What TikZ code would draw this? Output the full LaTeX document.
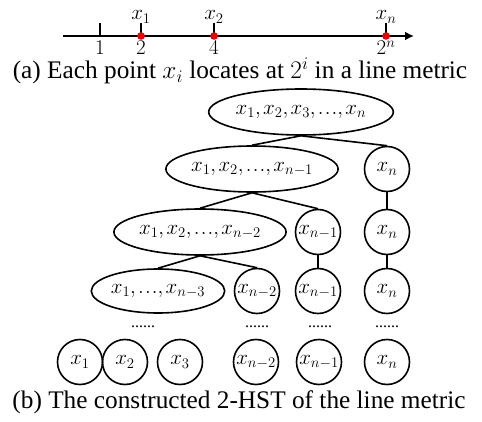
\documentclass[tikz,border=0pt]{standalone}
\usepackage{fix-cm}
\usepackage{fontspec}
\setmainfont{Liberation Serif}
\usetikzlibrary{arrows.meta,shapes.geometric}
\definecolor{Dot}{HTML}{F00000}
\newcommand\labsize{\fontsize{21}{24}\selectfont}
\newcommand\capsize{\fontsize{25.3}{28}\selectfont}
\newcommand\sep{,\mkern-1mu}
\newcommand\dd{{.\mkern1mu.\mkern1mu.}}

\tikzset{
  axis/.style={line width=2.3pt},
  lab/.style={anchor=base,inner sep=0pt,font=\labsize},
  setnode/.style={ellipse,draw,line width=1.6pt,inner sep=0pt,minimum height=46pt,minimum width=#1,font=\labsize},
  leaf/.style={circle,draw,line width=1.6pt,inner sep=0pt,minimum size=45pt,font=\labsize},
  link/.style={line width=1.6pt},
  more/.style={inner sep=0pt,font=\fontsize{16}{18}\selectfont},
}

\begin{document}
\begin{tikzpicture}[x=1pt,y=-1pt]
  \useasboundingbox (0,0) rectangle (482,422);
  % (a) line metric
  \coordinate (start) at (63,36);
  \coordinate (end) at (414,36);
  \draw[axis,-{Latex[length=9pt,width=9pt]}] (start) -- (end);
  \draw[axis] (100,36) -- (100,23);
  \node[lab] (one) at (100,55) {$1$};
  \foreach \x/\p/\v in {141/1/2,214/2/4,386/n/2^n} {
    \draw[axis] (\x,36) -- (\x,23);
    \fill[Dot] (\x,36) circle (3.8pt);
    \node[lab] (pt\p) at (\x,20) {$x_\p$};
    \node[lab] (val\p) at (\x,55) {$\v$};
  }
  \node[anchor=base,font=\capsize] (capa) at (240,79) {(a) Each point $x_i$ locates at $2^i$ in a line metric};

  % (b) 2-HST
  \node[setnode=164pt] (root) at (301,112) {$x_1\sep x_2\sep x_3\sep \dd\sep x_n$};
  \node[setnode=149pt] (s2) at (252,169) {$x_1\sep x_2\sep \dd\sep x_{n-1}$};
  \node[leaf] (c2) at (387,169) {$x_n$};
  \node[setnode=135pt] (s3) at (200,232) {$x_1\sep x_2\sep \dd\sep x_{n-2}$};
  \node[leaf] (c3a) at (318,232) {$x_{n-1}$};
  \node[leaf] (c3b) at (387,232) {$x_n$};
  \node[setnode=120pt,minimum height=44pt] (s4) at (158,291) {$x_1\sep \dd\sep x_{n-3}$};
  \node[leaf] (c4a) at (257,291) {$x_{n-2}$};
  \node[leaf] (c4b) at (318,291) {$x_{n-1}$};
  \node[leaf] (c4c) at (387,291) {$x_n$};
  \foreach \a/\b in {root/s2,root/c2,s2/s3,s2/c3a,c2/c3b,s3/s4,s3/c4a,c3a/c4b,c3b/c4c}
    \draw[link] (\a.south) -- (\b.north);
  \foreach \x/\n in {143/d1,257/d2,320/d3,387/d4}
    \node[more] (\n) at (\x,327) {......};
  \foreach \x/\v/\n in {80/1/b1,125/2/b2,180/3/b3,256/{n-2}/b4,319/{n-1}/b5,387/n/b6}
    \node[leaf] (\n) at (\x,362) {$x_{\v}$};
  \node[anchor=base,font=\capsize] (capb) at (239,408) {(b) The constructed 2-HST of the line metric};
\end{tikzpicture}
\end{document}
